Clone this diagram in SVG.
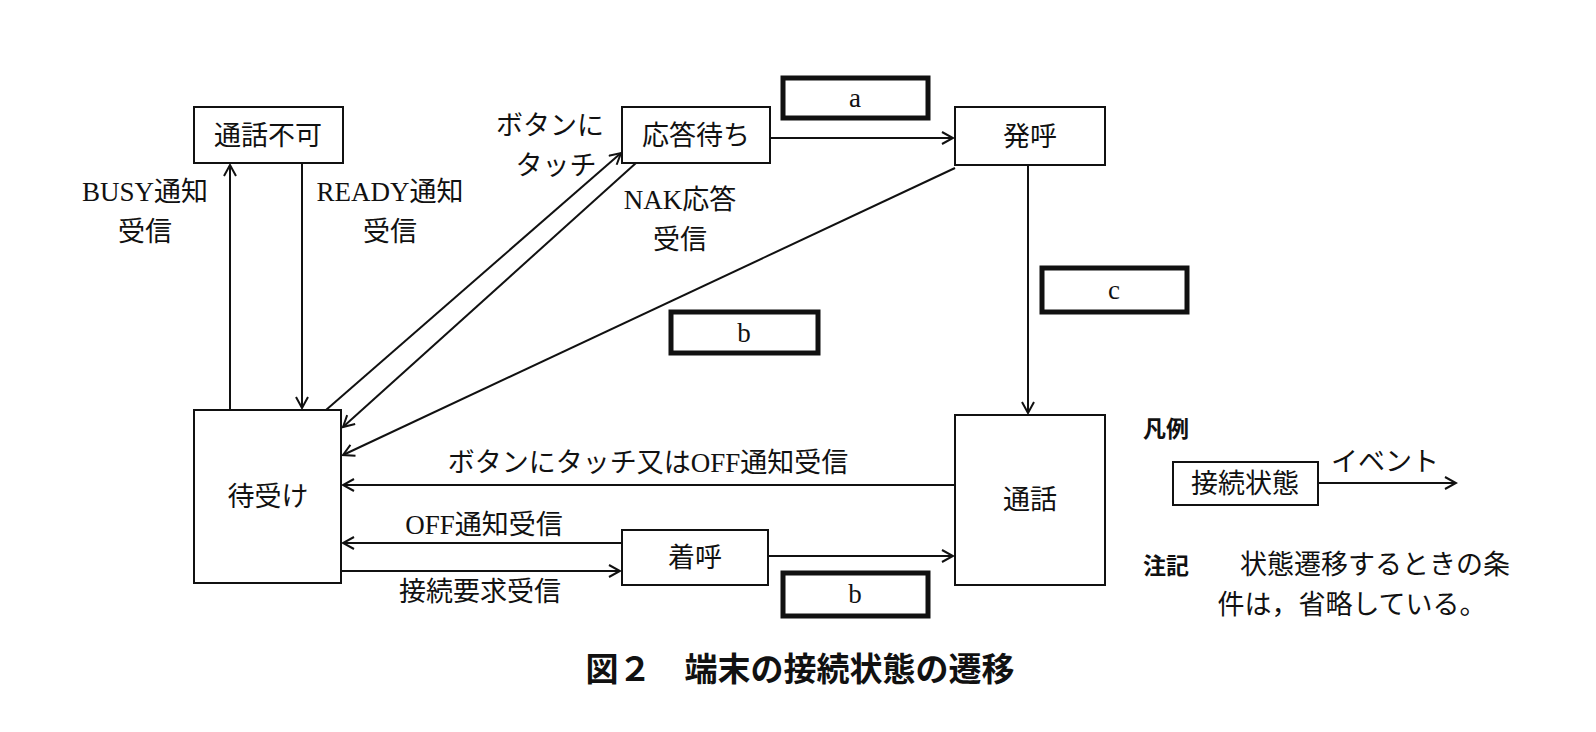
<svg xmlns="http://www.w3.org/2000/svg" width="1596" height="732" viewBox="0 0 1596 732">
<style>
.n{fill:#fff;stroke:#111;stroke-width:2}
.k{fill:#fff;stroke:#111;stroke-width:5}
.t{font-family:"Liberation Serif","Noto Sans CJK JP",serif;font-size:27px;fill:#111;text-anchor:middle}
.b{font-family:"Noto Sans CJK JP",sans-serif;font-weight:bold;fill:#111}
.e{fill:none;stroke:#111;stroke-width:2;marker-end:url(#ah)}
</style>
<defs><marker id="ah" markerWidth="14" markerHeight="14" refX="12" refY="7" orient="auto" markerUnits="userSpaceOnUse"><path d="M1,1 L12,7 L1,13" fill="none" stroke="#111" stroke-width="2"/></marker></defs>
<rect width="1596" height="732" fill="#fff"/>
<g id="connectors">
<line class="e" x1="230" y1="410" x2="230" y2="165"/>
<line class="e" x1="302" y1="163" x2="302" y2="408"/>
<line class="e" x1="326" y1="410" x2="621" y2="153"/>
<line class="e" x1="636" y1="163" x2="343" y2="427"/>
<line class="e" x1="955" y1="168" x2="343" y2="455"/>
<line class="e" x1="770" y1="138" x2="953" y2="138"/>
<line class="e" x1="1028" y1="165" x2="1028" y2="413"/>
<line class="e" x1="955" y1="485" x2="343" y2="485"/>
<line class="e" x1="622" y1="543" x2="343" y2="543"/>
<line class="e" x1="341" y1="571" x2="620" y2="571"/>
<line class="e" x1="768" y1="556" x2="953" y2="556"/>
<line class="e" x1="1318" y1="483" x2="1456" y2="483"/>
</g>
<g id="n1"><rect class="n" x="194" y="107" width="149" height="56"/><text class="t" x="268" y="145">通話不可</text></g>
<g id="n2"><rect class="n" x="622" y="107" width="148" height="56"/><text class="t" x="696" y="145">応答待ち</text></g>
<g id="n3"><rect class="n" x="955" y="107" width="150" height="58"/><text class="t" x="1030" y="146">発呼</text></g>
<g id="n4"><rect class="n" x="194" y="410" width="147" height="173"/><text class="t" x="268" y="506">待受け</text></g>
<g id="n5"><rect class="n" x="955" y="415" width="150" height="170"/><text class="t" x="1030" y="509">通話</text></g>
<g id="n6"><rect class="n" x="622" y="530" width="146" height="55"/><text class="t" x="695" y="567">着呼</text></g>
<g id="la"><rect class="k" x="783" y="78" width="145" height="40"/><text class="t" x="855" y="107">a</text></g>
<g id="lb1"><rect class="k" x="671" y="312" width="147" height="41"/><text class="t" x="744" y="342">b</text></g>
<g id="lc"><rect class="k" x="1042" y="268" width="145" height="44"/><text class="t" x="1114" y="299">c</text></g>
<g id="lb2"><rect class="k" x="783" y="573" width="145" height="43"/><text class="t" x="855" y="603">b</text></g>
<g id="labels">
<text class="t" x="145" y="201">BUSY通知</text><text class="t" x="145" y="241">受信</text>
<text class="t" x="390" y="201">READY通知</text><text class="t" x="390" y="241">受信</text>
<text class="t" x="550" y="135">ボタンに</text><text class="t" x="556" y="175">タッチ</text>
<text class="t" x="680" y="209">NAK応答</text><text class="t" x="680" y="249">受信</text>
<text class="t" x="648" y="472">ボタンにタッチ又はOFF通知受信</text>
<text class="t" x="484" y="534">OFF通知受信</text>
<text class="t" x="480" y="601">接続要求受信</text>
</g>
<g id="legend">
<text class="b" x="1143" y="437" font-size="23">凡例</text>
<rect class="n" x="1173" y="462" width="145" height="43"/><text class="t" x="1245" y="493">接続状態</text>
<text class="t" x="1385" y="471">イベント</text>
<text class="b" x="1143" y="574" font-size="23">注記</text>
<text class="t" x="1375" y="574">状態遷移するときの条</text>
<text class="t" x="1352" y="614">件は，省略している。</text>
</g>
<text class="b" x="800" y="681" font-size="33" text-anchor="middle">図２　端末の接続状態の遷移</text>
</svg>
